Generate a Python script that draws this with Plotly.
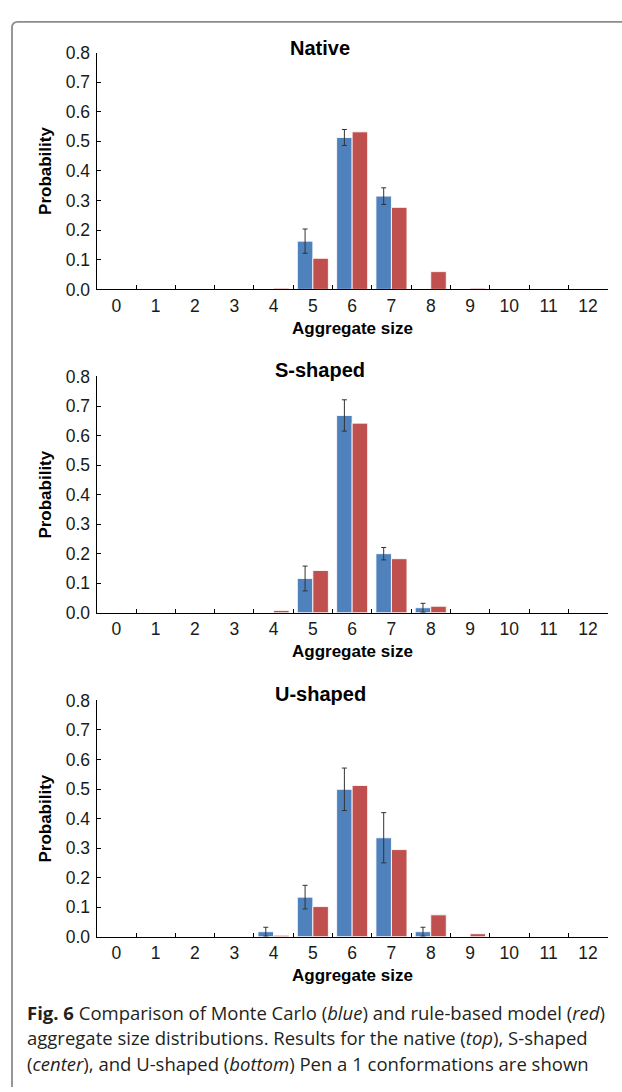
import plotly.graph_objects as go

# ---------------- data ----------------
sizes = ["0", "1", "2", "3", "4", "5", "6", "7", "8", "9", "10", "11", "12"]

native_mc = [0, 0, 0, 0, 0, 0.163, 0.513, 0.315, 0, 0, 0, 0, 0]
native_mc_err = [None, None, None, None, None, 0.041, 0.027, 0.028, None, None, None, None, None]
native_rb = [0, 0, 0, 0, 0.004, 0.105, 0.532, 0.277, 0.060, 0.004, 0, 0, 0]

s_mc = [0, 0, 0, 0, 0, 0.116, 0.668, 0.200, 0.017, 0, 0, 0, 0]
s_mc_err = [None, None, None, None, None, 0.042, 0.053, 0.021, 0.015, None, None, None, None]
s_rb = [0, 0, 0, 0, 0.008, 0.143, 0.642, 0.183, 0.022, 0, 0, 0, 0]

u_mc = [0, 0, 0, 0, 0.017, 0.134, 0.499, 0.335, 0.017, 0, 0, 0, 0]
u_mc_err = [None, None, None, None, 0.015, 0.040, 0.072, 0.085, 0.015, None, None, None, None]
u_rb = [0, 0, 0, 0, 0.005, 0.102, 0.512, 0.295, 0.074, 0.010, 0, 0, 0]

panel_titles = ["Native", "S-shaped", "U-shaped"]
y_ticks = [0.0, 0.1, 0.2, 0.3, 0.4, 0.5, 0.6, 0.7, 0.8]

caption_lines = [
    "<b>Fig. 6</b> Comparison of Monte Carlo (<i>blue</i>) and rule-based model (<i>red</i>)",
    "aggregate size distributions. Results for the native (<i>top</i>), S-shaped",
    "(<i>center</i>), and U-shaped (<i>bottom</i>) Pen a 1 conformations are shown",
]

# ---------------- layout constants ----------------
W, H = 622, 1092
BLUE = "#4F81BD"
RED = "#C0504D"
FONT = "Liberation Sans, Arial, sans-serif"

def px_x(p):
    return p / W

def px_y(p):
    return 1 - p / H

plot_left, plot_right = 96.7, 607.6
panels_px = [(43.3, 284.6), (373.3, 614.0), (703.3, 944.0)]
title_y_px = [38.3, 366.7, 696.7]
xtitle_y_px = [324.0, 653.3, 983.3]

fig = go.Figure()
series = [
    (native_mc, native_mc_err, native_rb),
    (s_mc, s_mc_err, s_rb),
    (u_mc, u_mc_err, u_rb),
]

def edge_widths(vals):
    return [1 if v > 0 else 0 for v in vals]

annotations = []
for i, (mc, err, rb) in enumerate(series):
    ax = "" if i == 0 else str(i + 1)
    # Monte Carlo bars (only the measured categories, each carrying its error bar)
    keep = [k for k, e in enumerate(err) if e is not None]
    mc_x = [sizes[k] for k in keep]
    mc_y = [mc[k] for k in keep]
    mc_e = [err[k] for k in keep]
    fig.add_trace(go.Bar(
        x=mc_x, y=mc_y, name="Monte Carlo",
        marker=dict(color=BLUE, line=dict(color="rgba(255,255,255,0.85)", width=1)),
        error_y=dict(type="data", array=mc_e, visible=True, color="#333333",
                     thickness=1, width=2.5),
        xaxis="x" + ax, yaxis="y" + ax, showlegend=False,
    ))
    fig.add_trace(go.Bar(
        x=sizes, y=rb, name="Rule-based",
        marker=dict(color=RED, line=dict(color="rgba(255,255,255,0.85)", width=edge_widths(rb))),
        xaxis="x" + ax, yaxis="y" + ax, showlegend=False,
    ))
    top, bot = panels_px[i]
    xa = dict(
        domain=[px_x(plot_left), px_x(plot_right)],
        anchor="y" + ax, type="category",
        categoryorder="array", categoryarray=sizes,
        range=[-0.5, 12.5],
        tickson="boundaries", ticks="inside", ticklen=4, tickwidth=1.3, tickcolor="black",
        showline=True, linecolor="black", linewidth=1.3,
        showgrid=False, zeroline=False,
        tickfont=dict(family=FONT, size=17.5, color="#1a1a1a"),
        ticklabelstandoff=0,
    )
    ya = dict(
        domain=[px_y(bot), px_y(top)],
        anchor="x" + ax, range=[0, 0.8],
        tickvals=y_ticks, tickformat=".1f",
        ticks="inside", ticklen=4, tickwidth=1.3, tickcolor="black",
        showline=True, linecolor="black", linewidth=1.3,
        showgrid=False, zeroline=False,
        tickfont=dict(family=FONT, size=17.5, color="#1a1a1a"),
        ticklabelstandoff=2,
    )
    fig.update_layout(**{"xaxis" + ax: xa, "yaxis" + ax: ya})

    annotations.append(dict(
        text="<b>%s</b>" % panel_titles[i], x=px_x(320), y=px_y(title_y_px[i]),
        xref="paper", yref="paper", xanchor="center", yanchor="middle",
        showarrow=False, font=dict(family=FONT, size=20, color="black"),
    ))
    annotations.append(dict(
        text="<b>Aggregate size</b>", x=px_x(352), y=px_y(xtitle_y_px[i]),
        xref="paper", yref="paper", xanchor="center", yanchor="middle",
        showarrow=False, font=dict(family=FONT, size=17, color="black"),
    ))
    annotations.append(dict(
        text="<b>Probability</b>", x=px_x(46), y=px_y((top + bot) / 2),
        xref="paper", yref="paper", xanchor="center", yanchor="middle",
        textangle=-90, showarrow=False, font=dict(family=FONT, size=17, color="black"),
    ))

cap_y = [1020.7, 1046.3, 1072.7]
for line, yy in zip(caption_lines, cap_y):
    annotations.append(dict(
        text=line, x=px_x(25), y=px_y(yy), xref="paper", yref="paper",
        xanchor="left", yanchor="middle", showarrow=False,
        font=dict(family="Open Sans, Noto Sans, sans-serif", size=18.5, color="#231f20"),
    ))

# border frame (open at right and bottom)
r = 6
path = "M %f,%f L %f,%f Q %f,%f %f,%f L %f,%f" % (
    px_x(12), px_y(H + 5), px_x(12), px_y(12 + r),
    px_x(12), px_y(12), px_x(12 + r), px_y(12),
    px_x(W + 5), px_y(12),
)

fig.update_layout(
    width=W, height=H, autosize=False,
    margin=dict(l=0, r=0, t=0, b=0),
    paper_bgcolor="white", plot_bgcolor="white",
    barmode="group", bargap=0.21, bargroupgap=0,
    annotations=annotations,
    shapes=[dict(type="path", path=path, xref="paper", yref="paper",
                 line=dict(color="#8c8c8c", width=1.8))],
    font=dict(family=FONT),
)

fig.write_html("out.html", config={"displayModeBar": False},
               post_script="document.body.style.margin='0px';")
